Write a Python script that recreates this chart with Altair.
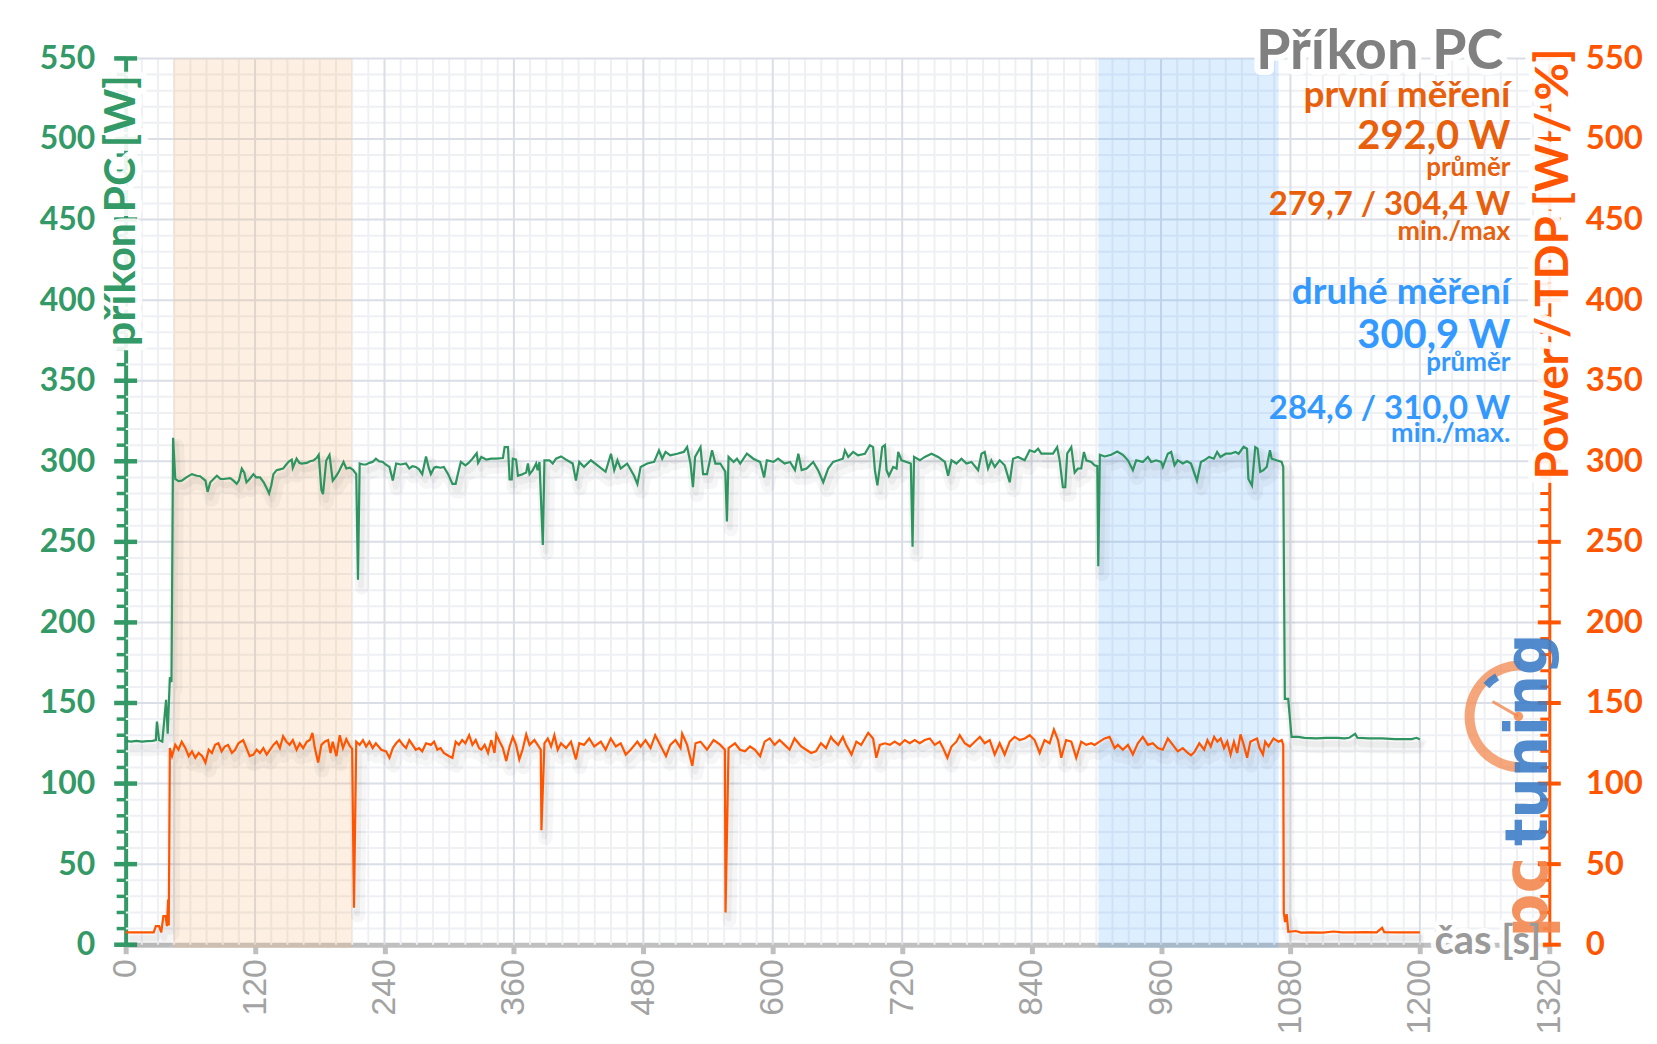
import altair as alt
import pandas as pd

# ---------------- data ----------------
pc_t = [0, 5, 10, 15, 20, 25, 28, 29, 31, 34, 37.5, 39, 41, 42.5, 44, 46, 49, 52, 57, 61.5, 66, 69, 74, 76, 78.5,
        84.6, 88, 91, 97, 100, 103, 105, 107.7, 110, 112, 115, 118.5, 121, 124.6, 128, 131, 133, 135, 137, 140,
        143, 146, 151, 154, 155, 158.5, 161, 163, 168, 171, 174, 177, 179, 181.5, 183, 186, 189, 192, 195.4, 198,
        202, 204.6, 208, 211, 213.8, 215.4, 217, 220, 223, 226, 229, 232, 235, 238.5, 241, 244.6, 247.7, 250.8,
        255, 260, 263, 266, 269, 272, 275, 278.5, 281, 283, 286, 288, 292, 295, 299, 303, 306, 308, 310.8, 315,
        318, 321.5, 325.5, 326.8, 329.8, 334.5, 339, 343.7, 349.8, 351.4, 354.5, 356, 358, 359, 362, 363.7, 368,
        371.4, 373, 374.5, 377.5, 380.6, 382, 383.7, 386.8, 388.3, 393, 396, 399, 403.7, 408.3, 414.5, 417.5,
        420.6, 425, 431.4, 437.5, 445, 450, 453, 456, 459, 465, 471.4, 474.5, 477.5, 483.7, 490, 494.5, 497.5,
        500.6, 505, 511.4, 517.5, 520.6, 523.7, 526, 528, 533, 535.4, 539, 543.7, 546.8, 551.4, 556, 557.5, 559,
        563.7, 566.8, 569.8, 576, 582, 588.3, 592, 594.5, 600.6, 605, 611, 616, 620.6, 623.7, 626.8, 631.4, 637.5,
        642, 646.8, 651.4, 656, 660.7, 665, 666.9, 670, 674.6, 679, 685.4, 690, 693, 694.7, 697, 699.3, 701.5,
        704, 705.5, 707.7, 711.7, 714.8, 716.3, 719.4, 724, 728, 729.6, 731, 736.4, 741, 747.2, 753.3, 759.6,
        762.6, 765.7, 770.3, 775, 779.6, 784.2, 790.4, 793.5, 796.5, 799.6, 802.7, 805.8, 810.4, 815, 819.7,
        822.8, 827.4, 833.6, 838.2, 842.8, 846, 849, 855, 859.8, 863.7, 866, 869, 871.2, 873, 876.8, 879.9, 883,
        886, 888.5, 890.7, 895.3, 898.4, 900.9, 901.8, 903.3, 907.7, 913.8, 919.4, 924.6, 929.3, 933.9, 937,
        943.1, 947.8, 950.9, 955.5, 960.1, 961.7, 966.3, 969.4, 972.5, 975.5, 980.2, 984, 987.8, 993.3, 997,
        1000, 1004.6, 1009, 1012, 1015, 1020, 1024.4, 1029, 1032, 1036.6, 1039.7, 1041, 1044.3, 1047.3, 1049.5,
        1052, 1055, 1058, 1061, 1062.6, 1067, 1071.8, 1073.3, 1074.8, 1077.9, 1081, 1087, 1093, 1104, 1113,
        1123.7, 1130, 1134.4, 1140, 1142, 1152.7, 1165, 1177, 1192.4, 1197, 1200]
pc_w = [126.5, 126.0, 126.5, 126.0, 126.3, 126.5, 127.0, 138.5, 127.0, 126.0, 152.0, 131.0, 166.0, 163.0, 314.6,
        289.0, 287.7, 288.0, 290.3, 292.0, 291.0, 290.7, 288.0, 281.0, 287.0, 291.0, 289.0, 289.0, 289.5, 288.0,
        286.0, 288.0, 295.5, 293.0, 287.0, 289.0, 292.0, 290.0, 290.0, 287.0, 283.0, 280.0, 285.0, 292.0, 294.5,
        295.0, 295.5, 299.6, 301.0, 296.0, 301.6, 299.0, 298.6, 299.0, 300.0, 300.5, 302.0, 304.0, 282.0, 279.6,
        300.5, 304.0, 288.0, 291.0, 294.0, 299.6, 295.5, 296.0, 294.5, 292.0, 226.5, 298.6, 298.0, 298.0, 299.0,
        299.6, 301.6, 300.0, 299.6, 298.0, 296.5, 288.0, 298.6, 298.0, 298.6, 295.5, 297.0, 296.5, 295.0, 292.0,
        303.0, 296.0, 292.0, 296.0, 296.5, 296.0, 296.5, 292.0, 286.0, 286.0, 292.0, 299.6, 297.5, 299.0, 301.6,
        305.0, 299.0, 302.7, 301.0, 301.6, 301.6, 302.0, 308.8, 308.8, 288.7, 288.7, 301.6, 301.0, 291.0, 292.0,
        293.0, 298.6, 292.0, 294.5, 298.6, 294.5, 299.6, 248.0, 300.6, 300.6, 298.6, 301.6, 303.0, 301.0, 298.6,
        288.0, 299.6, 296.5, 300.6, 297.5, 293.5, 304.7, 294.5, 300.6, 295.5, 298.6, 291.0, 286.0, 296.5, 298.6,
        299.6, 306.8, 301.6, 305.8, 303.7, 304.7, 305.8, 308.8, 298.6, 284.0, 302.7, 308.8, 292.0, 292.0, 306.8,
        298.6, 298.6, 293.5, 262.6, 302.7, 299.6, 301.6, 298.6, 304.7, 301.6, 299.6, 290.0, 300.6, 299.6, 301.6,
        298.6, 299.6, 294.5, 304.7, 294.5, 295.5, 299.6, 294.5, 287.0, 295.5, 299.6, 300.6, 301.6, 306.8, 302.7,
        305.8, 303.7, 304.7, 310.0, 308.8, 294.5, 285.0, 296.5, 308.8, 310.0, 294.5, 291.0, 296.5, 295.5, 305.8,
        300.6, 299.6, 298.6, 247.0, 302.7, 300.6, 302.7, 304.7, 302.7, 299.6, 291.0, 300.6, 298.6, 301.6, 298.6,
        299.6, 294.5, 304.7, 305.8, 295.5, 300.6, 296.5, 300.6, 297.5, 287.0, 301.6, 302.7, 300.6, 306.8, 305.8,
        307.8, 304.7, 304.7, 304.7, 308.8, 300.6, 284.0, 284.0, 304.7, 308.8, 293.0, 295.5, 295.5, 305.8, 300.6,
        299.6, 297.5, 297.0, 234.8, 304.0, 303.0, 304.0, 306.0, 304.0, 300.6, 294.5, 300.6, 299.6, 302.7, 299.6,
        300.6, 299.6, 296.5, 304.7, 305.8, 297.5, 300.6, 298.6, 300.0, 298.6, 288.0, 299.6, 300.6, 302.7, 301.6,
        305.8, 302.7, 304.7, 304.7, 305.8, 304.7, 309.0, 307.8, 289.0, 285.0, 308.8, 307.8, 293.5, 294.5, 296.5,
        306.8, 301.6, 300.6, 299.6, 296.5, 152.5, 152.5, 129.0, 129.0, 128.4, 128.0, 128.4, 128.4, 128.0, 128.4,
        130.9, 128.4, 128.0, 128.0, 127.6, 127.6, 128.4, 127.4]

pw_t = [0, 5, 10, 15, 20, 26, 28, 31, 33, 35, 37, 38.3, 39.4, 40, 41, 43, 46, 49, 52, 55.4, 58.5, 61.5, 64.6, 67.7,
        71, 74, 77, 80, 83, 86, 89, 92, 95, 98.5, 101.5, 104.6, 109, 112, 115, 118.5, 121.5, 124.6, 127.7, 130.8,
        134, 137, 140, 143, 146, 149, 152, 155, 158.5, 161.5, 164.6, 168, 170.8, 173.2, 175.4, 178.5, 181.5,
        184.6, 187.7, 190, 192, 195.4, 198.5, 201.5, 204.6, 207.7, 210, 211.7, 213.8, 217, 220, 223, 226, 229,
        232, 237, 241.5, 244.6, 247.7, 250.8, 253.8, 257, 260, 263, 266, 269, 272, 275, 278.5, 283, 286, 289, 292,
        295, 300, 303, 306, 309, 312, 315, 318.5, 321.5, 324.6, 327.7, 329.8, 332.9, 336, 339, 342, 343.7, 346.8,
        349.8, 352.9, 356, 359, 362, 365, 368, 371.4, 374.5, 379, 382, 384.9, 385.5, 388.3, 391.4, 394.5, 397.5,
        400.6, 403.7, 408.3, 412.9, 417.5, 420.6, 425, 429.8, 434.5, 440.6, 445, 449.8, 454.5, 459, 463.7, 468.3,
        474.5, 477.5, 482, 486.7, 491, 495.7, 501, 505, 509.8, 514.5, 516, 520.6, 525.4, 528.4, 533, 539, 545.2,
        551.4, 555.6, 556.2, 559, 565, 569.6, 574.3, 578.9, 583.5, 588.3, 592.5, 597.2, 601.7, 606.3, 611, 615.6,
        620.2, 626.3, 631, 635.6, 640, 644.7, 649.4, 654, 656, 660.7, 665, 668, 673, 677.5, 682, 688.5, 693, 696,
        699.3, 704, 708.6, 713, 717.8, 722.4, 727, 731.6, 736.2, 741, 745.6, 750.2, 754.8, 757.9, 761.9, 765.7,
        770.3, 773.4, 778, 782.7, 787.3, 792, 796.5, 801.2, 805.8, 810.4, 815, 819.7, 824.3, 829, 833.6, 838.2,
        842.8, 847.5, 852, 856.7, 860.7, 864.5, 867.5, 872, 876.8, 881.4, 886, 890.7, 895.3, 898.4, 903, 907.7,
        912.3, 917, 920, 924.6, 929.3, 933.9, 938.5, 943.1, 947.8, 952.4, 957, 961.7, 966.3, 970.9, 975.5, 980.2,
        984.8, 987.8, 990.9, 995.5, 1000, 1003, 1006.1, 1009.2, 1012.2, 1015.3, 1018.4, 1021.4, 1024.5, 1027.6,
        1030.6, 1033.7, 1036.7, 1039.8, 1042.8, 1045.9, 1049, 1051.4, 1054.5, 1056.6, 1059.7, 1064.3, 1068.9,
        1071.9, 1073.3, 1073.8, 1075, 1076.5, 1078, 1085, 1090, 1100, 1110, 1120, 1128, 1135, 1150, 1160, 1165,
        1167, 1180, 1190, 1200]
pw_w = [7.7, 7.7, 7.7, 7.7, 7.7, 7.7, 11.5, 11.5, 7.7, 17.8, 17.8, 11.5, 28.0, 12.0, 122, 117, 124, 121, 126, 122,
        117, 120, 116, 119, 117, 113, 121, 119, 124, 125, 120, 123, 124, 119, 121, 125, 127, 122, 117, 118, 121,
        119, 122, 118, 121, 124, 126, 122, 129.4, 126, 124, 127, 121, 125, 122, 126, 127, 131.5, 122, 113, 124,
        126, 127, 119, 126, 117, 130, 122, 127.5, 123.5, 121.5, 23, 126, 124, 127, 123, 126, 122, 125, 121, 120,
        116, 122, 125, 127, 124, 122, 127, 124, 121, 122, 120, 125, 124, 126, 121, 122, 119, 117, 116, 126, 124,
        127, 125, 130, 124, 127, 122, 121, 124, 119, 127, 119, 130.5, 126, 122, 114, 123, 129, 124, 115, 121,
        130.5, 124, 127, 124, 121, 71, 125, 128, 123, 130, 121, 125, 122, 126, 115, 125, 124, 128, 123, 126, 121,
        128, 123, 125, 118, 121, 126, 123, 127, 122, 130, 124, 117, 124, 127, 122, 131, 124, 111, 125, 126, 121,
        127, 124, 121, 20, 122, 125, 121, 120, 123, 121, 117, 126, 128, 124, 127, 124, 121, 128, 123, 121, 119,
        120, 125, 122, 129, 127, 124, 129, 124, 118, 126, 124, 131.5, 128, 116, 124, 125, 124, 126, 124, 127,
        125, 127, 125, 127, 128, 124, 126, 122, 116, 123, 126, 130, 125, 123, 126, 129, 125, 127, 118, 125, 118,
        126, 129, 127, 128, 130, 127, 119, 127, 125, 133.5, 127, 116, 127, 126, 116, 126, 124, 125, 124, 126,
        128, 129, 122, 124, 121, 124, 118, 125, 129, 124, 125, 122, 121, 128, 124, 120, 122, 119, 117.5, 119.5,
        125, 121, 127, 123, 129, 126, 128, 122, 126, 118, 126, 119, 130.5, 124, 116, 126, 127, 128, 122, 118,
        126, 123, 128, 126, 127, 124, 20, 14, 19, 8, 8.5, 7.5, 7.7, 7.5, 8.2, 7.7, 7.7, 7.8, 7.7, 10.5, 7.8,
        7.7, 7.7, 7.7]

band_from = [44, 902]
band_to = [210, 1069]
band_run = ["první měření", "druhé měření"]

X_MAX = 1320
Y_MAX = 550
x_labels = list(range(0, X_MAX + 1, 120))
x_minor = [v for v in range(15, X_MAX, 15) if v % 120]
x_major = list(range(120, X_MAX, 120))
y_labels = list(range(0, Y_MAX + 1, 50))
y_minor = [v for v in range(10, Y_MAX, 10) if v % 50]
y_major = list(range(50, Y_MAX + 1, 50))
y_all = list(range(0, Y_MAX + 1, 10))

# ---------------- style ----------------
W, H = 1428, 889
FONT = "Lato"
GREEN = "#339966"
GREEN_LINE = "#2e9460"
ORANGE = "#ff5500"
ORANGE_TXT = "#e8600c"
BLUE_TXT = "#3399ff"
GRID_MAJOR = "#dadee6"
GRID_MINOR = "#eef0f4"

xs = alt.Scale(domain=[0, X_MAX], nice=False, zero=False)
ysl = alt.Scale(domain=[0, Y_MAX], nice=False)
ysr = alt.Scale(domain=[0, Y_MAX], nice=False)

df_pc = pd.DataFrame({"t": pc_t, "w": pc_w})
df_pw = pd.DataFrame({"t": pw_t, "w": pw_w})
df_band = pd.DataFrame({"a": band_from, "b": band_to, "run": band_run})
df_xmin = pd.DataFrame({"g": x_minor})
df_xmaj = pd.DataFrame({"g": x_major})
df_ymin = pd.DataFrame({"g": y_minor})
df_ymaj = pd.DataFrame({"g": y_major})
df_ticks_l = pd.DataFrame({"v": y_all, "xp": [0] * len(y_all)})
df_major_l = pd.DataFrame({"v": y_labels, "xp": [0] * len(y_labels)})
df_ticks_r = pd.DataFrame({"v": y_all, "xp": [X_MAX] * len(y_all)})
df_major_r = pd.DataFrame({"v": y_labels, "xp": [X_MAX] * len(y_labels)})

x_axis = alt.Axis(
    values=x_labels, format="d", labelAngle=-90, labelFont="Liberation Sans", labelFontSize=34,
    labelColor="#a3a3a3", labelPadding=5, labelOverlap=False, labelFlush=False,
    tickColor="#bfbfbf", tickWidth=5, tickSize=9,
    domainColor="#c0c0c0", domainWidth=5, grid=False, title=None,
)
yl_axis = alt.Axis(
    values=y_labels, format="d", labelFont=FONT, labelFontWeight="bold", labelFontSize=32,
    labelColor=GREEN, labelPadding=31, labelOverlap=False, ticks=False,
    domainColor=GREEN, domainWidth=4, grid=False, title=None,
)
yr_axis = alt.Axis(
    orient="right", values=y_labels, format="d", labelFont=FONT, labelFontWeight="bold",
    labelFontSize=33, labelColor=ORANGE, labelPadding=36, labelOverlap=False, ticks=False,
    domainColor=ORANGE, domainWidth=3, grid=False, title=None,
)


def X(f):
    return alt.X(f, scale=xs, axis=x_axis)


def YL(f):
    return alt.Y(f, scale=ysl, axis=yl_axis)


def YR(f):
    return alt.Y(f, scale=ysr, axis=yr_axis)


grid = [
    alt.Chart(df_xmin).mark_rule(color=GRID_MINOR, strokeWidth=2).encode(x=X("g:Q")),
    alt.Chart(df_ymin).mark_rule(color=GRID_MINOR, strokeWidth=2).encode(y=YL("g:Q")),
    alt.Chart(df_xmaj).mark_rule(color=GRID_MAJOR, strokeWidth=2).encode(x=X("g:Q")),
    alt.Chart(df_ymaj).mark_rule(color=GRID_MAJOR, strokeWidth=2).encode(y=YL("g:Q")),
]

bands = alt.Chart(df_band).mark_rect().encode(
    x=X("a:Q"), x2="b:Q", y=alt.value(0), y2=alt.value(H + 3),
    color=alt.Color("run:N", legend=None, scale=alt.Scale(
        domain=band_run, range=["rgba(248,184,120,0.22)", "rgba(51,153,255,0.17)"])),
)


def shadow(df, Y):
    return [
        alt.Chart(df).mark_line(color="#000000", opacity=0.035, strokeWidth=14, xOffset=4, yOffset=8,
                                strokeJoin="round").encode(x=X("t:Q"), y=Y("w:Q")),
        alt.Chart(df).mark_line(color="#000000", opacity=0.04, strokeWidth=6, xOffset=3, yOffset=6,
                                strokeJoin="round").encode(x=X("t:Q"), y=Y("w:Q")),
    ]


green = alt.Chart(df_pc).mark_line(color=GREEN_LINE, strokeWidth=2.2).encode(x=X("t:Q"), y=YL("w:Q"))
orange = alt.Chart(df_pw).mark_line(color=ORANGE, strokeWidth=2.2).encode(x=X("t:Q"), y=YR("w:Q"))


def ticks(df, Y, color, size, offset, thick):
    return alt.Chart(df).mark_tick(orient="horizontal", size=size, thickness=thick, color=color,
                                   xOffset=offset, opacity=1).encode(x=X("xp:Q"), y=Y("v:Q"))


left = alt.layer(*grid, bands, *shadow(df_pc, YL), green,
                 ticks(df_ticks_l, YL, GREEN, 9, -4.5, 3.5), ticks(df_major_l, YL, GREEN, 23, 0, 4.5))
right = alt.layer(*shadow(df_pw, YR), orange,
                  ticks(df_ticks_r, YR, ORANGE, 9, -4.5, 3), ticks(df_major_r, YR, ORANGE, 23, 0, 4))

halos = []


def label(text, x, y, size, color, align="right", angle=0, halo=0, font=FONT, weight="bold", opacity=1):
    df = pd.DataFrame({"t": [text]})
    kw = dict(align=align, baseline="alphabetic", font=font, fontSize=size, fontWeight=weight, angle=angle)
    enc = dict(text="t:N", x=alt.value(x), y=alt.value(y))
    if halo:
        halos.append(alt.Chart(df).mark_text(color="white", stroke="white", strokeWidth=halo,
                                             strokeJoin="round", strokeOpacity=0.92, **kw).encode(**enc))
    return [alt.Chart(df).mark_text(color=color, opacity=opacity, **kw).encode(**enc)]


RX = 1389
texts = []
texts += label("Příkon PC", 1382, 11, 56, "#808080", halo=12)
texts += label("první měření", RX, 49, 37, ORANGE_TXT)
texts += label("292,0 W", RX, 91, 40, ORANGE_TXT)
texts += label("průměr", RX, 118, 26, ORANGE_TXT)
texts += label("279,7 / 304,4 W", RX, 157, 33, ORANGE_TXT)
texts += label("min./max", RX, 182, 27, ORANGE_TXT)
texts += label("druhé měření", RX, 246, 37, BLUE_TXT)
texts += label("300,9 W", RX, 290, 40, BLUE_TXT)
texts += label("průměr", RX, 314, 26, BLUE_TXT)
texts += label("284,6 / 310,0 W", RX, 362, 33, BLUE_TXT)
texts += label("min./max.", RX, 385, 27, BLUE_TXT)
texts += label("příkon PC [W]", 9, 17, 43, GREEN, angle=270, halo=14)
texts += label("Power / TDP [W / %]", W + 19, -10, 46, ORANGE, angle=270, halo=14)
texts += label("čas [s]", 1420, 898, 40, "#9a9a9a", halo=10)

# pctuning watermark
one = pd.DataFrame({"k": [0]})
logo = [
    alt.Chart(one).mark_arc(theta=3.1416, theta2=6.2832, radius=56, radius2=46, color="#f3884f",
                            opacity=0.75).encode(x=alt.value(1399), y=alt.value(660)),
    alt.Chart(one).mark_arc(theta=5.45, theta2=5.75, radius=50, radius2=42, color="#3f7fc8",
                            opacity=0.9).encode(x=alt.value(1399), y=alt.value(660)),
    alt.Chart(one).mark_rule(color="#f3884f", strokeWidth=3, opacity=0.8).encode(
        x=alt.value(1397), y=alt.value(660), x2=alt.value(1371), y2=alt.value(645)),
    alt.Chart(one).mark_point(filled=True, size=90, color="#f3884f", opacity=0.85).encode(
        x=alt.value(1397), y=alt.value(660)),
]
logo += label("pc", 1426, 882, 62, "#f3884f", align="left", angle=270, font="DejaVu Sans", opacity=0.9)
logo += label("tuning", 1426, 790, 58, "#3f7fc8", align="left", angle=270, font="DejaVu Sans", opacity=0.9)

chart = alt.layer(left, right, *halos, *logo, *texts).resolve_scale(y="independent").properties(
    width=W, height=H,
    autosize=alt.AutoSizeParams(type="none"),
    padding={"left": 118, "top": 49, "right": 100, "bottom": 90},
    background="white",
).configure_view(strokeWidth=0)

chart.save("out.html", embed_options={"renderer": "svg", "actions": False})
